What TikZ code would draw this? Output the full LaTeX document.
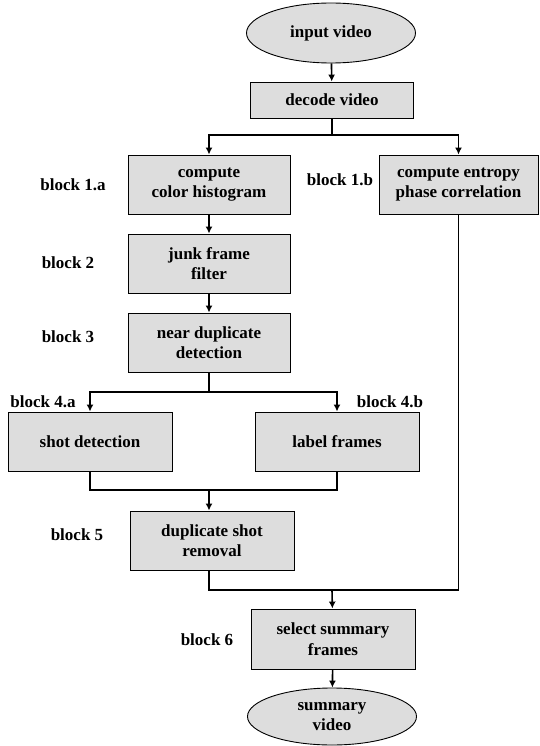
\documentclass[tikz,border=0pt]{standalone}
\usepackage{fontspec}
\setmainfont{Liberation Serif}
\usetikzlibrary{arrows.meta,positioning,calc,shapes.geometric}
\definecolor{boxgray}{RGB}{221,221,221}

\begin{document}
\begin{tikzpicture}[x=1pt,y=-1pt,font=\fontsize{17}{20.5}\selectfont\bfseries,
 box/.style={draw,fill=boxgray,line width=0.9pt,align=center,inner sep=0pt,minimum width=162pt,minimum height=59pt},
 term/.style={ellipse,draw,fill=boxgray,line width=0.9pt,align=center,inner sep=0pt,minimum width=169pt,minimum height=58pt},
 lbl/.style={inner sep=0pt},
 wire/.style={line width=1.6pt},
 arr/.style={-{Latex[length=7pt,width=7pt]},line width=1.6pt}]
\useasboundingbox (0,0) rectangle (539,746);
\node[term,minimum height=60pt] (invid) at (331,33) {input video};
\node[box,minimum width=163pt,minimum height=36pt] (decode) at (332,100) {decode video};
\node[box] (hist) at (209,184.5) {compute\\color histogram};
\node[box,minimum width=159pt] (entropy) at (458.5,184.5) {compute entropy\\phase correlation};
\node[box] (junk) at (209,263.5) {junk frame\\filter};
\node[box] (neardup) at (209,342.5) {near duplicate\\detection};
\node[box,minimum width=164pt] (shot) at (90,441.5) {shot detection};
\node[box,minimum width=164pt] (labelfr) at (337,441.5) {label frames};
\node[box,minimum width=164pt] (dupshot) at (212,540.5) {duplicate shot\\removal};
\node[box,minimum width=164pt,minimum height=60pt] (select) at (333,639) {select summary\\frames};
\node[term,minimum height=57pt] (outvid) at (332,716.5) {summary\\video};
% block labels
\node[lbl] (lbla) at (73,185) {block 1.a};
\node[lbl] (lblb) at (340,180) {block 1.b};
\node[lbl] (lbl2) at (68,263) {block 2};
\node[lbl] (lbl3) at (68,337) {block 3};
\node[lbl] (lbl4a) at (43,402) {block 4.a};
\node[lbl] (lbl4b) at (390,402) {block 4.b};
\node[lbl] (lbl5) at (77,535) {block 5};
\node[lbl] (lbl6) at (207,640) {block 6};
% junctions
\coordinate (split1) at (332,135);
\coordinate (split2) at (209,392);
\coordinate (merge1) at (209,490);
\coordinate (merge2) at (332,590);
\draw[arr] (invid) -- (decode);
\draw[wire] (decode) -- (split1);
\draw[arr] (split1) -| (hist);
\draw[arr] (split1) -| (entropy);
\draw[arr] (hist) -- (junk);
\draw[arr] (junk) -- (neardup);
\draw[wire] (neardup) -- (split2);
\draw[arr] (split2) -| (shot);
\draw[arr] (split2) -| (labelfr);
\draw[wire] (shot) |- (merge1);
\draw[wire] (labelfr) |- (merge1);
\draw[arr] (merge1) -- (merge1 |- dupshot.north);
\draw[wire] (dupshot.south -| merge1) |- (merge2);
\draw[wire] (entropy) |- (merge2);
\draw[arr] (merge2) -- (select);
\draw[arr] (select) -- (outvid);
\end{tikzpicture}
\end{document}
